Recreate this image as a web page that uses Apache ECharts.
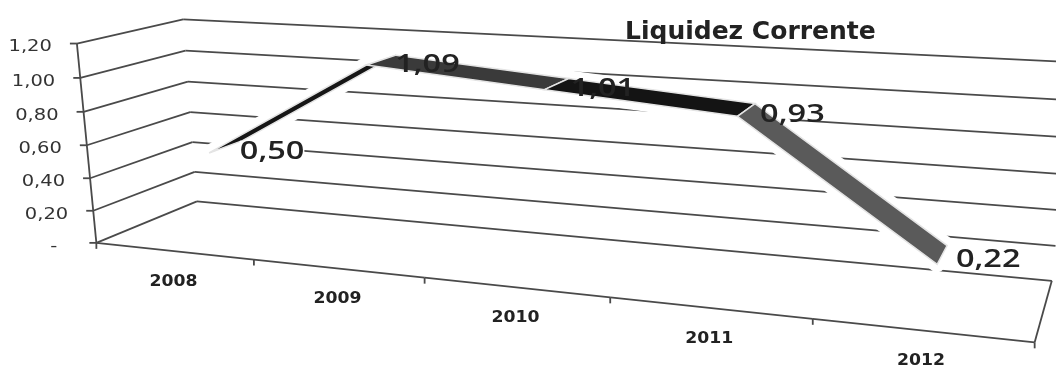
<!DOCTYPE html>
<html><head><meta charset="utf-8">
<style>html,body{margin:0;padding:0;background:#fff}#c{width:1056px;height:366px}</style>
<script src="https://cdn.jsdelivr.net/npm/echarts@6/dist/echarts.min.js"></script>
</head><body><div id="c"></div>
<script>
const title = 'Liquidez Corrente';
const years = ['2008','2009','2010','2011','2012'];
const values = [0.50,1.09,1.01,0.93,0.22];
const valueLabels = ['0,50','1,09','1,01','0,93','0,22'];
const yTicks = [0,0.2,0.4,0.6,0.8,1.0,1.2];
const yTickLabels = ['-','0,20','0,40','0,60','0,80','1,00','1,20'];
const segmentColors = ['#161616','#3a3a3a','#141414','#5a5a5a'];

// Camera of the pseudo-3D box: box corner (category position, depth, value) -> page position
const camera = [
 [0,0,0,97,243],[1,0,0,253,261],[2,0,0,425,278],[4,0,0,812,320],[5,0,0,1035,341],
 [0,1,0,197,201],[5,1,0,1052,280],
 [0,0,1.2,77,43],[0,1,1.2,183,20],[5,1,1.2,1075,63],
 [0,0,0.6,87,144],[0,1,0.6,190,112]
];
const ribbonDepth = [0.41,0.76];
const GRID = {left:100,top:40,width:800,height:250};
const XMAX = 5, YMAX = 1.2;

function solve(A,b){const n=b.length;const M=A.map((r,i)=>r.concat(b[i]));
 for(let c=0;c<n;c++){let p=c;for(let r=c+1;r<n;r++)if(Math.abs(M[r][c])>Math.abs(M[p][c]))p=r;
  [M[c],M[p]]=[M[p],M[c]];
  for(let r=0;r<n;r++){if(r===c)continue;const f=M[r][c]/M[c][c];for(let k=c;k<=n;k++)M[r][k]-=f*M[c][k];}}
 return M.map((r,i)=>r[n]/r[i]);}
function fitCamera(pts){const rows=[],rhs=[];
 pts.forEach(([X,Y,Z,x,y])=>{x/=1000;y/=1000;
  rows.push([X,Y,Z,1,0,0,0,0,-x*X,-x*Y,-x*Z]);rhs.push(x);
  rows.push([0,0,0,0,X,Y,Z,1,-y*X,-y*Y,-y*Z]);rhs.push(y);});
 const n=11,A=[],b=[];
 for(let i=0;i<n;i++){A.push([]);let s=0;for(let j=0;j<n;j++){let t=0;rows.forEach(r=>t+=r[i]*r[j]);A[i].push(t);}
  rows.forEach((r,k)=>s+=r[i]*rhs[k]);b.push(s);}
 return solve(A,b);}
const m = fitCamera(camera);
function project3(u,d,v){const w=m[8]*u+m[9]*d+m[10]*v+1;
 return [1000*(m[0]*u+m[1]*d+m[2]*v+m[3])/w,1000*(m[4]*u+m[5]*d+m[6]*v+m[7])/w];}
// Take a point placed by the hidden cartesian axes and lift it into the box
function lift(api,x,val,d){const c=api.coord([x,val]);
 return project3((c[0]-GRID.left)/GRID.width*XMAX,d,(GRID.top+GRID.height-c[1])/GRID.height*YMAX);}

const lineStyle={stroke:'#4a4a4a',lineWidth:1.8};
function seg(a,b,st){return {type:'line',shape:{x1:a[0],y1:a[1],x2:b[0],y2:b[1]},style:Object.assign({},lineStyle,st||{})};}

const gridSeries={type:'custom',name:'grid',coordinateSystem:'cartesian2d',silent:true,z:1,
 data:yTicks.map((t,i)=>[0,t,i]),encode:{x:0,y:1},
 renderItem(p,api){const t=api.value(1),i=api.value(2);
  const f=lift(api,0,t,0),b=lift(api,0,t,1),e=lift(api,XMAX,t,1);
  const ch=[seg(f,b),seg(b,e),seg([f[0]-7,f[1]],f)];
  ch.push({type:'text',x:f[0]-(t===0?39:25),y:f[1]+4,scaleX:1.3,
   style:{text:yTickLabels[i],font:'15px "DejaVu Sans"',fill:'#333',align:'right',verticalAlign:'middle'}});
  return {type:'group',children:ch};}};

const frameSeries={type:'custom',name:'frame',coordinateSystem:'cartesian2d',silent:true,z:1,
 data:[0,1,2,3,4,5].map(u=>[u,0]),encode:{x:0,y:1},
 renderItem(p,api){const u=api.value(0),ch=[];
  const a=lift(api,u,0,0);
  ch.push(seg(a,[a[0],a[1]+6]));
  if(u<5)ch.push(seg(a,lift(api,u+1,0,0)));
  if(u===0)ch.push(seg(a,lift(api,0,YMAX,0)));
  if(u===5)ch.push(seg(a,lift(api,5,0,1)));
  return {type:'group',children:ch};}};

const catSeries={type:'custom',name:'years',coordinateSystem:'cartesian2d',silent:true,z:2,
 data:years.map((y,i)=>[i+0.5,0,i]),encode:{x:0,y:1},
 renderItem(p,api){const i=api.value(2),a=lift(api,api.value(0),0,0);
  return {type:'text',x:a[0],y:a[1]+31,scaleX:1.15,
   style:{text:years[i],font:'bold 15px "DejaVu Sans"',fill:'#222',align:'center',verticalAlign:'middle'}};}};

const ribbonSeries={type:'custom',name:'Liquidez Corrente',coordinateSystem:'cartesian2d',silent:true,z:3,
 data:values.slice(0,-1).map((v,i)=>[i+0.5,v,i+1.5,values[i+1],i]),encode:{x:[0,2],y:[1,3]},
 renderItem(p,api){const x0=api.value(0),v0=api.value(1),x1=api.value(2),v1=api.value(3),i=api.value(4);
  const pts=[lift(api,x0,v0,ribbonDepth[0]),lift(api,x1,v1,ribbonDepth[0]),lift(api,x1,v1,ribbonDepth[1]),lift(api,x0,v0,ribbonDepth[1])];
  return {type:'group',children:[
   {type:'polygon',z2:1,shape:{points:pts},style:{fill:'#fff',stroke:'#fff',lineWidth:16,lineJoin:'round'}},
   {type:'polygon',z2:2,shape:{points:pts},style:{fill:segmentColors[i],stroke:'#e4e4e4',lineWidth:1.5}}
  ]};}};

const labelSeries={type:'custom',name:'labels',coordinateSystem:'cartesian2d',silent:true,z:4,
 data:values.map((v,i)=>[i+0.5,v,i]),encode:{x:0,y:1},
 renderItem(p,api){const i=api.value(2),a=lift(api,api.value(0),api.value(1),(ribbonDepth[0]+ribbonDepth[1])/2);
  return {type:'text',x:a[0]+46,y:a[1]+5,scaleX:1.25,
   style:{text:valueLabels[i],font:'600 26px "Open Sans"',fill:'#222',align:'center',verticalAlign:'middle',lineHeight:22,
    backgroundColor:i===0?'#fff':null}};}};

const chart=echarts.init(document.getElementById('c'),null,{renderer:'canvas'});
chart.setOption({animation:false,backgroundColor:'#fff',
 title:{text:title,left:620,top:15,textStyle:{fontFamily:'DejaVu Sans',fontWeight:'bold',fontSize:25,color:'#222'}},
 grid:Object.assign({containLabel:false},GRID),
 xAxis:{type:'value',min:0,max:XMAX,show:false},
 yAxis:{type:'value',min:0,max:YMAX,interval:0.2,show:false},
 series:[gridSeries,frameSeries,catSeries,ribbonSeries,labelSeries]});
</script></body></html>
